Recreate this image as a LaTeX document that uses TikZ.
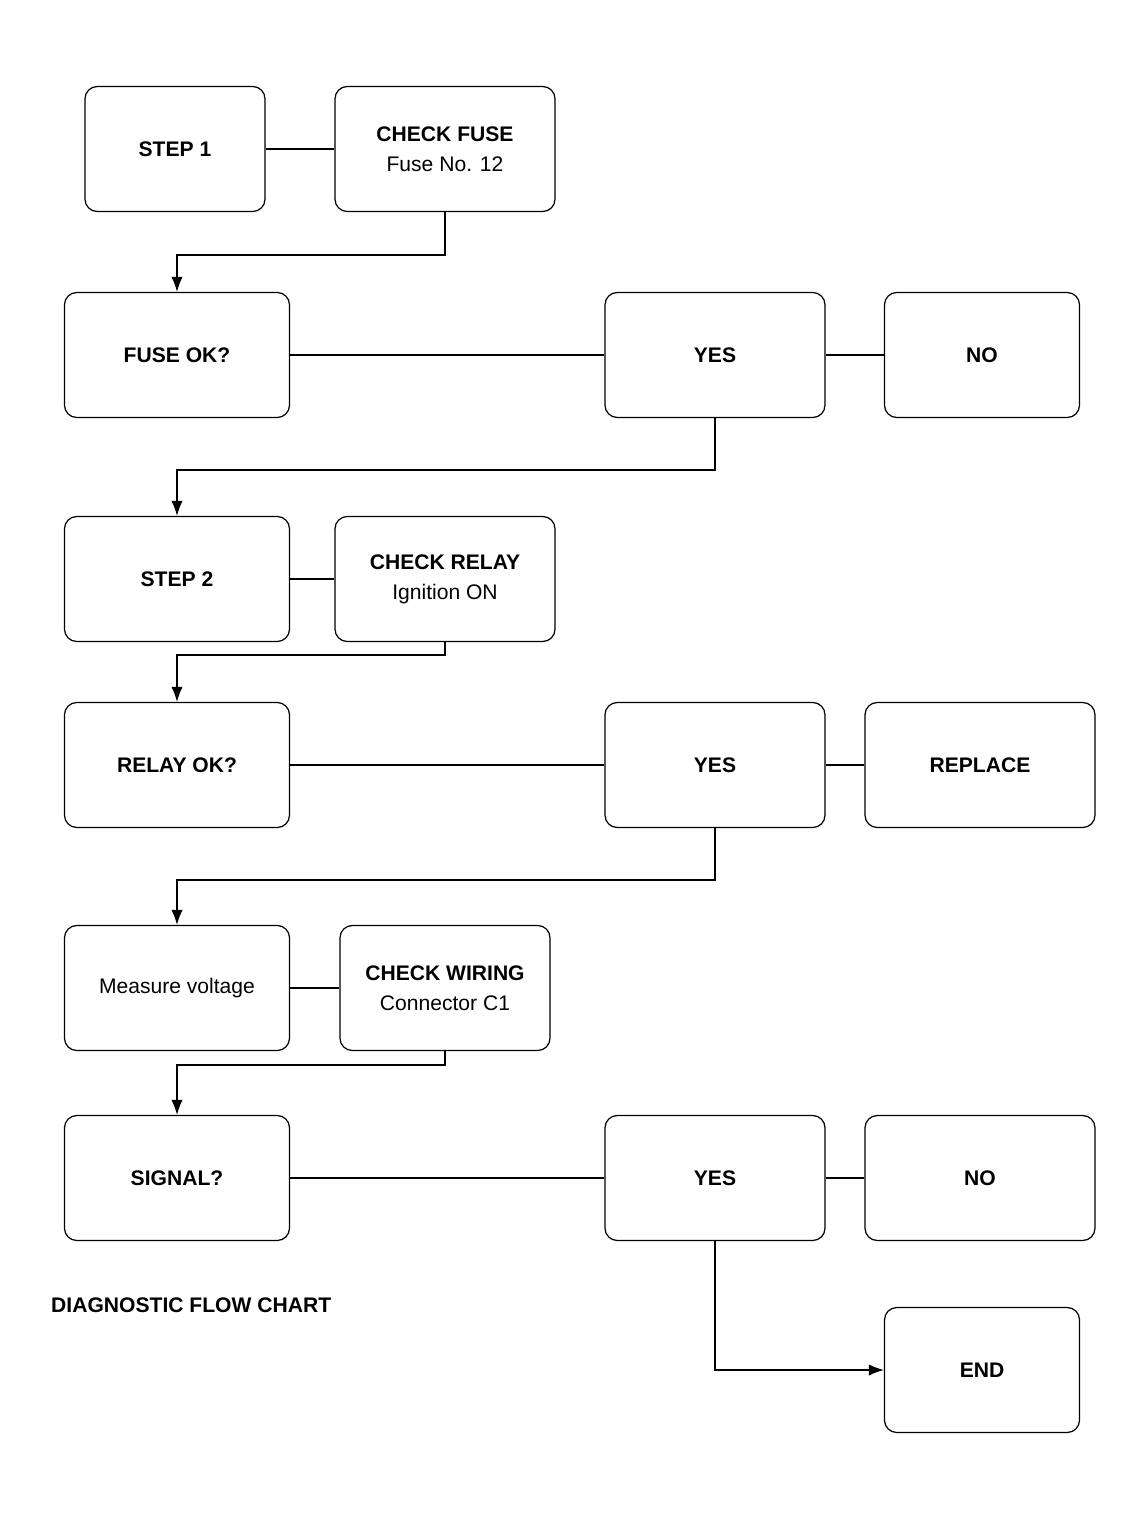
\documentclass[tikz,border=0pt]{standalone}
\usepackage{fontspec}
\setmainfont{Liberation Sans}
\usetikzlibrary{arrows.meta}
\tikzset{
  chartbox/.style={draw,rounded corners=7pt,line width=.7pt,align=center,
    minimum height=25mm,font=\bfseries\fontsize{12}{15}\selectfont},
  link/.style={line width=.7pt},
  flow/.style={link,-{Latex[length=3mm]}}
}
\begin{document}
\begin{tikzpicture}[x=.2mm,y=-.2mm]
\useasboundingbox (0,0) rectangle (1134,1519);
% boxes
\foreach \n/\x/\y/\w/\t in {
  stepa/175/149/36/{STEP 1},
  checka/445/149/44/{CHECK FUSE\\[2pt]{\normalfont Fuse No. 12}},
  aska/177/355/45/{FUSE OK?},
  yesa/715/355/44/{YES},
  noa/982/355/39/{NO},
  stepb/177/579/45/{STEP 2},
  checkb/445/579/44/{CHECK RELAY\\[2pt]{\normalfont Ignition ON}},
  askb/177/765/45/{RELAY OK?},
  yesb/715/765/44/{YES},
  nob/980/765/46/{REPLACE},
  stepc/177/988/45/{{\normalfont Measure voltage}},
  checkc/445/988/42/{CHECK WIRING\\[2pt]{\normalfont Connector C1}},
  askc/177/1178/45/{SIGNAL?},
  yesc/715/1178/44/{YES},
  noc/980/1178/46/{NO},
  endc/982/1370/39/{END}}
  \node[chartbox,minimum width=\w mm] (\n) at (\x,\y) {\t};
\node[anchor=west,font=\bfseries\fontsize{12}{14}\selectfont] (caption) at (45,1305) {DIAGNOSTIC FLOW CHART};
% junctions
\path (177,255) coordinate (ja) (177,470) coordinate (jb) (177,655) coordinate (jc)
  (177,880) coordinate (jd) (177,1065) coordinate (je);
% connectors
\draw[link] (stepa)--(checka) (aska)--(yesa)--(noa) (stepb)--(checkb)
  (askb)--(yesb)--(nob) (stepc)--(checkc) (askc)--(yesc)--(noc);
\draw[flow] (checka.south) |- (ja) -- (aska.north);
\draw[flow] (yesa.south) |- (jb) -- (stepb.north);
\draw[flow] (checkb.south) |- (jc) -- (askb.north);
\draw[flow] (yesb.south) |- (jd) -- (stepc.north);
\draw[flow] (checkc.south) |- (je) -- (askc.north);
\draw[flow] (yesc.south) |- (endc.west);
\end{tikzpicture}
\end{document}
